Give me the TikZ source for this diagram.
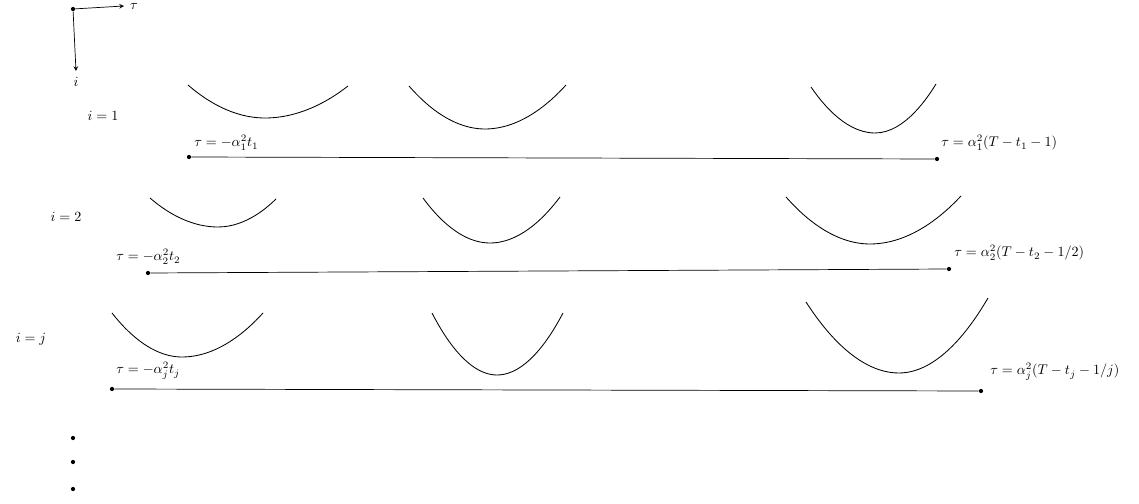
\documentclass[tikz,border=0pt]{standalone}
\usepackage{amsmath}
\usepackage{amssymb}
\usetikzlibrary{arrows,positioning}
\tikzset{
	>=stealth,
	endpt/.style={circle, fill, inner sep=0pt, minimum size=3pt},
	bound/.style={anchor=west, inner sep=0pt},
	rowlabel/.style={inner sep=0pt},
	well/.style={line width=0.6pt},
	span/.style={line width=0.5pt}
}

\begin{document}
\begin{tikzpicture}[x=0.025cm, y=-0.025cm]

	\useasboundingbox (0,0) rectangle (1139,504);

	% --- Axes ---
	\node[endpt] (origin) at (73,9) {};
	\coordinate (tauend) at (124,6);
	\coordinate (iend) at (76,71);
	\draw[->, span] (origin) -- (tauend);
	\draw[->, span] (origin) -- (iend);
	\node[rowlabel] (taulab) at (134,6) {$\tau$};
	\node[rowlabel] (ilab) at (76,82) {$i$};

	% --- Row i=1 ---
	\node[rowlabel] (row1) at (103,116) {$i=1$};
	\draw[well] (188,85) parabola bend (265,118) (348,86);
	\draw[well] (409,86) parabola bend (485,129) (566,85);
	\draw[well] (811,87) parabola bend (875,133) (936,84);
	\node[endpt] (s1) at (189,157) {};
	\node[endpt] (e1) at (937,159) {};
	\draw[span] (s1) -- (e1);
	\node[bound] (s1lab) at (194,143) {$\tau=-\alpha_1^2t_1$};
	\node[bound] (e1lab) at (941,143) {$\tau=\alpha_1^2(T-t_1-1)$};

	% --- Row i=2 ---
	\node[rowlabel] (row2) at (66,217) {$i=2$};
	\draw[well] (150,198) parabola bend (218,227) (276,199);
	\draw[well] (423,198) parabola bend (490,243) (560,197);
	\draw[well] (786,197) parabola bend (870,244) (961,196);
	\node[endpt] (s2) at (148,273) {};
	\node[endpt] (e2) at (949,269) {};
	\draw[span] (s2) -- (e2);
	\node[bound] (s2lab) at (116,257) {$\tau=-\alpha_2^2t_2$};
	\node[bound] (e2lab) at (954,253) {$\tau=\alpha_2^2(T-t_2-1/2)$};

	% --- Row i=j ---
	\node[rowlabel] (rowj) at (31,339) {$i=j$};
	\draw[well] (112,313) parabola bend (182,357) (263,313);
	\draw[well] (432,313) parabola bend (497,375) (563,313);
	\draw[well] (806,302) parabola bend (899,373) (988,298);
	\node[endpt] (sj) at (112,389) {};
	\node[endpt] (ej) at (981,391) {};
	\draw[span] (sj) -- (ej);
	\node[bound] (sjlab) at (116,371) {$\tau=-\alpha_j^2t_j$};
	\node[bound] (ejlab) at (990,372) {$\tau=\alpha_j^2(T-t_j-1/j)$};

	% --- Dots ---
	\foreach \k/\py in {1/438, 2/462, 3/489}
		\node[endpt] (dot\k) at (73,\py) {};

\end{tikzpicture}
\end{document}
